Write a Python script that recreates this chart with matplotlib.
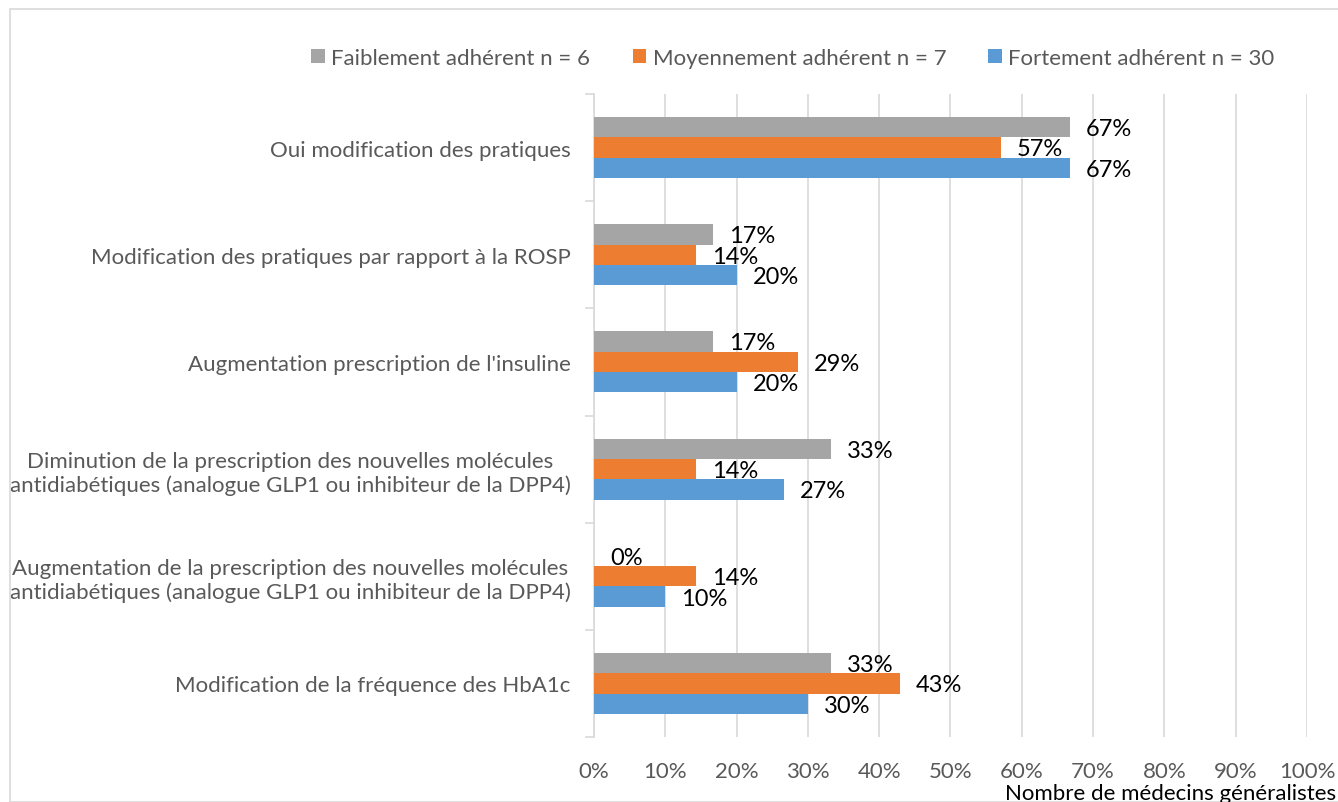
import matplotlib.pyplot as plt
import numpy as np
from matplotlib.patches import Rectangle

# Données (en % des médecins de chaque groupe)
categories = [
    "Oui modification des pratiques",
    "Modification des pratiques par rapport à la ROSP",
    "Augmentation prescription de l'insuline",
    "Diminution de la prescription des nouvelles molécules\nantidiabétiques (analogue GLP1 ou inhibiteur de la DPP4)",
    "Augmentation de la prescription des nouvelles molécules\nantidiabétiques (analogue GLP1 ou inhibiteur de la DPP4)",
    "Modification de la fréquence des HbA1c",
]
faible = [66.7, 16.7, 16.7, 33.3, 0.0, 33.3]
moyen = [57.1, 14.3, 28.6, 14.3, 14.3, 42.9]
fort = [66.7, 20.0, 20.0, 26.7, 10.0, 30.0]
series_names = ["Faiblement adhérent n = 6", "Moyennement adhérent n = 7", "Fortement adhérent n = 30"]
xticks = [0, 10, 20, 30, 40, 50, 60, 70, 80, 90, 100]

colors = ["#A5A5A5", "#ED7D31", "#5B9BD5"]
grid_col = "#D9D9D9"
txt_col = "#595959"

plt.rcParams["font.family"] = ["Lato", "DejaVu Sans"]

fig = plt.figure(figsize=(13.38, 8.03), dpi=100)
ax = fig.add_axes([594 / 1338, 1 - 738 / 803, (1307 - 594) / 1338, (738 - 95) / 803])

# cadre extérieur
fig.patches.append(Rectangle((10 / 1338, 0), 1.2, 1 - 10 / 803, transform=fig.transFigure,
                             fill=False, edgecolor=grid_col, linewidth=1.2))

y = np.arange(len(categories))
h = 0.19
for i, (vals, name, c) in enumerate(zip([faible, moyen, fort], series_names, colors)):
    pos = y + (i - 1) * h
    ax.barh(pos, vals, height=h, color=c, label=name, zorder=3)
    for p, v in zip(pos, vals):
        ax.annotate(f"{v:.0f}%", xy=(v, p), xytext=(11.5, -1), textcoords="offset points",
                    ha="left", va="center", fontsize=17, color="black", zorder=4)

ax.set_xlim(0, 100)
ax.set_ylim(len(categories) - 0.5, -0.5)
ax.set_xticks(xticks)
ax.set_xticklabels([f"{t}%" for t in xticks])
ax.set_yticks(y)
ax.set_yticklabels(categories, multialignment="center")
ax.set_yticks(np.arange(len(categories) + 1) - 0.5, minor=True)

ax.tick_params(axis="y", which="major", length=0, pad=17, labelsize=16, labelcolor=txt_col)
ax.tick_params(axis="y", which="minor", length=6.5, color=grid_col, width=1.2)
ax.tick_params(axis="x", length=0, pad=17, labelsize=16, labelcolor=txt_col)

ax.grid(axis="x", color=grid_col, linewidth=1.2, zorder=0)
for s in ["top", "right", "bottom"]:
    ax.spines[s].set_visible(False)
ax.spines["left"].set_color(grid_col)
ax.spines["left"].set_linewidth(1.2)

fig.text(1336 / 1338, 1 - 794 / 803, "Nombre de médecins généralistes", ha="right", va="center",
         fontsize=16, color="black")

fig.legend(loc="center", bbox_to_anchor=(793 / 1338, 1 - 59 / 803), ncol=3, frameon=False,
           fontsize=16, labelcolor=txt_col, handlelength=0.6, handleheight=0.6,
           handletextpad=0.3, columnspacing=1.9)

plt.savefig("out.png", dpi=100)
